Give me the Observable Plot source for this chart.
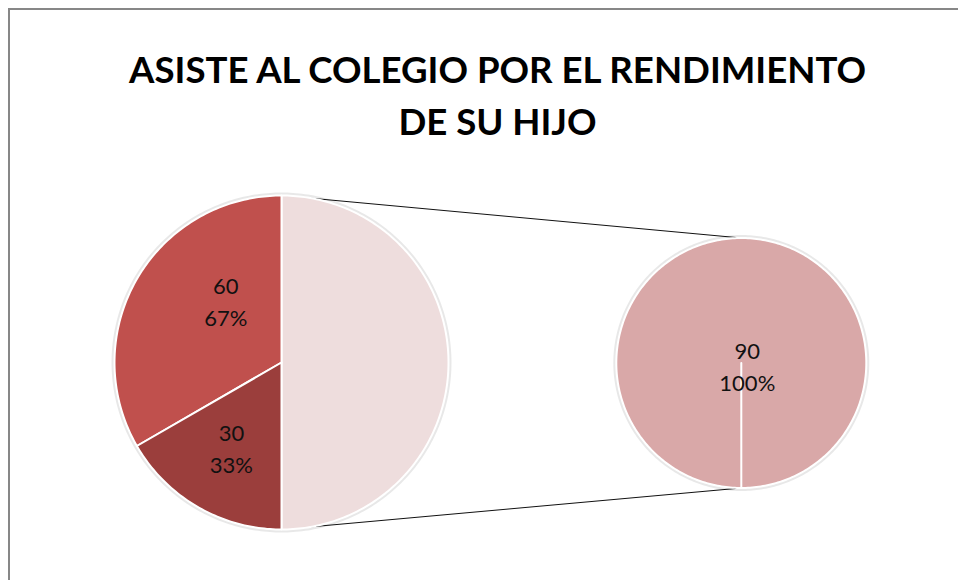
<!DOCTYPE html>
<html><head><meta charset="utf-8">
<script src="https://cdn.jsdelivr.net/npm/d3@7"></script>
<script src="https://cdn.jsdelivr.net/npm/@observablehq/plot@0.6"></script>
<style>
body{margin:0;background:#fff;}
#page{position:relative;width:958px;height:580px;overflow:hidden;background:#fff;}
#frame{position:absolute;left:8px;top:8px;right:0;bottom:0;border-top:2px solid #878787;border-left:2px solid #878787;}
.tl{position:absolute;left:0;width:996px;text-align:center;font:700 36px Lato,"Open Sans",sans-serif;line-height:52px;color:#000;white-space:nowrap;}
.tl span{display:inline-block;transform-origin:50% 50%;}
#chart{position:absolute;left:0;top:150px;}
</style></head><body>
<div id="page">
<div id="frame"></div>
<div class="tl" style="top:42.5px"><span id="s1">ASISTE AL COLEGIO POR EL RENDIMIENTO</span></div>
<div class="tl" style="top:94.5px"><span id="s2">DE SU HIJO</span></div>
<div id="chart"></div>
</div>
<script>
// ---- data ----
const mainValues = [60, 30];          // slices kept on the main pie
const secondValues = [90];            // slices split out to the secondary pie
const mainColors = ["#C0504D", "#9B3E3C"];
const otherColor = "#EEDDDD";
const secondColors = ["#D9A8A8"];

// ---- layout (pixels) ----
const W = 958, H = 430, PX = 167;
const leftC = {x: 281, y: 212}, leftR = 167;
const rightC = {x: 740.8, y: 212.5}, rightR = 125;
const labelNudge = {m0: [31, -13], m1: [0, -3], s0: [6, 2]}; // px adjustments
const toU = (px, py) => ({x: (px - leftC.x) / PX, y: (leftC.y - py) / PX});

const C1 = toU(leftC.x, leftC.y), R1 = leftR / PX;
const C2 = toU(rightC.x, rightC.y), R2 = rightR / PX;
const pt = (c, r, a) => ({x: c.x + r * Math.sin(a), y: c.y + r * Math.cos(a)});

function arcPoly(c, r, a0, a1, closeCenter = true) {
  const lo = Math.min(a0, a1), hi = Math.max(a0, a1);
  const n = Math.max(8, Math.ceil((hi - lo) / (Math.PI / 180)));
  const pts = [];
  if (closeCenter) pts.push({...c});
  for (let i = 0; i <= n; i++) pts.push(pt(c, r, lo + (hi - lo) * i / n));
  if (closeCenter) pts.push({...c});
  return pts;
}

const otherTotal = d3.sum(secondValues);
const mainTotal = d3.sum(mainValues) + otherTotal;
const otherAngle = 2 * Math.PI * otherTotal / mainTotal;
const start = Math.PI / 2 + otherAngle / 2;
const mainPie = d3.pie().sort(null).value(d => d.value)
  .startAngle(start).endAngle(start - 2 * Math.PI)(
  [{key: "other", value: otherTotal, color: otherColor},
   ...mainValues.map((v, i) => ({key: "m" + i, value: v, color: mainColors[i]}))]);
const secondPie = d3.pie().sort(null).value(d => d.value)
  .startAngle(Math.PI).endAngle(-Math.PI)(
  secondValues.map((v, i) => ({key: "s" + i, value: v, color: secondColors[i]})));

const pct = d3.format(".0%");
const slices = [];
const labels = [];
const mainSum = d3.sum(mainValues), secSum = d3.sum(secondValues);
mainPie.forEach(s => {
  slices.push({color: s.data.color, pts: arcPoly(C1, R1, s.startAngle, s.endAngle)});
  if (s.data.key !== "other") {
    const mid = (s.startAngle + s.endAngle) / 2;
    const p = pt(C1, R1 * 0.6, mid);
    const nd = labelNudge[s.data.key] || [0, 0];
    labels.push({x: p.x + nd[0] / PX, y: p.y - nd[1] / PX,
      text: s.data.value + "\n" + pct(s.data.value / mainSum)});
  }
});
secondPie.forEach(s => {
  slices.push({color: s.data.color, pts: arcPoly(C2, R2, s.startAngle, s.endAngle)});
  const full = Math.abs(s.endAngle - s.startAngle) > 2 * Math.PI - 1e-6;
  const mid = (s.startAngle + s.endAngle) / 2;
  const p = full ? {...C2} : pt(C2, R2 * 0.6, mid);
  const nd = labelNudge[s.data.key] || [0, 0];
  labels.push({x: p.x + nd[0] / PX, y: p.y - nd[1] / PX,
    text: s.data.value + "\n" + pct(s.data.value / secSum)});
});

const connectors = [
  {id: "top", x: C1.x, y: C1.y + R1}, {id: "top", x: C2.x, y: C2.y + R2},
  {id: "bot", x: C1.x, y: C1.y - R1}, {id: "bot", x: C2.x, y: C2.y - R2}
];
const halos = [
  ...arcPoly(C1, R1 + 1.5 / PX, 0, 2 * Math.PI, false).map(d => ({...d, id: "a"})),
  ...arcPoly(C2, R2 + 1.5 / PX, 0, 2 * Math.PI, false).map(d => ({...d, id: "b"}))
];

const chart = Plot.plot({
  width: W, height: H, margin: 0,
  x: {domain: [-leftC.x / PX, (W - leftC.x) / PX], range: [0, W], axis: null},
  y: {domain: [-(H - leftC.y) / PX, leftC.y / PX], range: [H, 0], axis: null},
  style: {background: "transparent", overflow: "visible"},
  marks: [
    Plot.line(connectors, {x: "x", y: "y", z: "id", stroke: "#111", strokeWidth: 1}),
    Plot.line(halos, {x: "x", y: "y", z: "id", stroke: "#000", strokeOpacity: 0.09, strokeWidth: 3}),
    ...slices.map(s => Plot.line(s.pts, {x: "x", y: "y", fill: s.color, stroke: "#fff",
      strokeWidth: 2, strokeLinejoin: "round"})),
    Plot.text(labels, {x: "x", y: "y", text: "text", fontSize: 22, fontFamily: "Lato, 'Open Sans', sans-serif",
      lineHeight: 32 / 22, fill: "#111"})
  ]
});
document.getElementById("chart").appendChild(chart);

const s1 = document.getElementById("s1"), s2 = document.getElementById("s2");
const sc = 737 / s1.getBoundingClientRect().width;
s1.style.transform = `scaleX(${sc})`;
s2.style.transform = `scaleX(${sc})`;
</script>
</body></html>
